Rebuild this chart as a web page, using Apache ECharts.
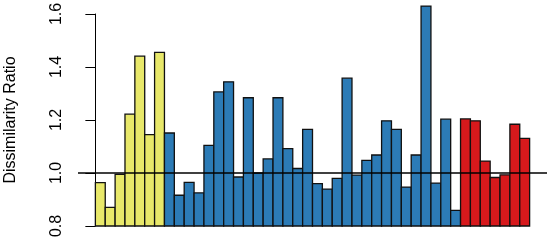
<!DOCTYPE html>
<html lang="en">
<head>
    <meta charset="UTF-8">
    <title>Dissimilarity Ratio</title>
    <script src="https://cdn.jsdelivr.net/npm/echarts@6/dist/echarts.min.js"></script>
    <style>
        body { margin: 0; background: #fff; }
    </style>
</head>
<body>
<div id="main" style="width: 550px;height:240px;"></div>
<script type="text/javascript">
    // values, three groups from left to right
    var yellowVals = [0.964, 0.870, 0.995, 1.222, 1.441, 1.145, 1.455];
    var blueVals = [1.151, 0.916, 0.965, 0.925, 1.104, 1.306, 1.344, 0.985, 1.284, 1.000,
                    1.053, 1.284, 1.092, 1.017, 1.165, 0.960, 0.939, 0.980, 1.358, 0.992,
                    1.048, 1.068, 1.197, 1.165, 0.947, 1.068, 1.630, 0.962, 1.203, 0.859];
    var redVals = [1.204, 1.197, 1.045, 0.983, 0.993, 1.184, 1.131];
    var yTicks = [0.8, 1.0, 1.2, 1.4, 1.6];
    var baseLine = 1.0;

    var groupColors = ['#E8E86A', '#2C7BB6', '#D7191C'];

    // one row per bar: [left edge, value, group]
    var rows = [];
    [yellowVals, blueVals, redVals].forEach(function (vals, g) {
        vals.forEach(function (v) {
            rows.push([rows.length, v, g]);
        });
    });
    var n = rows.length;
    var pad = n * 0.04;   // R style 4% axis extension

    var myChart = echarts.init(document.getElementById('main'));

    myChart.setOption({
        animation: false,
        grid: { left: 78, right: 3, top: 14, bottom: 14, containLabel: false, outerBoundsMode: 'none' },
        xAxis: {
            type: 'value',
            min: -pad,
            max: n + pad,
            show: false
        },
        yAxis: {
            type: 'value',
            min: yTicks[0],
            max: yTicks[yTicks.length - 1],
            interval: 0.2,
            name: 'Dissimilarity Ratio',
            nameLocation: 'middle',
            nameRotate: 90,
            nameGap: 59,
            nameTextStyle: { fontFamily: 'Liberation Sans', fontSize: 16, color: '#000' },
            axisLine: { show: true, lineStyle: { color: '#000', width: 1 } },
            axisTick: { show: true, inside: false, length: 10, lineStyle: { color: '#000' } },
            axisLabel: {
                rotate: 90,
                margin: 13,
                fontFamily: 'Liberation Sans',
                fontSize: 16,
                color: '#000',
                formatter: function (v) { return v.toFixed(1); }
            },
            splitLine: { show: false }
        },
        series: [{
            type: 'custom',
            data: rows,
            clip: false,
            z: 2,
            renderItem: function (params, api) {
                var x0 = api.value(0);
                var v = api.value(1);
                var p0 = api.coord([x0, yTicks[0]]);
                var p1 = api.coord([x0 + 1, v]);
                return {
                    type: 'rect',
                    shape: { x: p0[0], y: p1[1], width: p1[0] - p0[0], height: p0[1] - p1[1] },
                    style: {
                        fill: groupColors[api.value(2)],
                        stroke: '#111',
                        lineWidth: 1.3
                    }
                };
            },
            markLine: {
                silent: true,
                symbol: 'none',
                z: 5,
                label: { show: false },
                lineStyle: { color: '#000', width: 1.5, type: 'solid' },
                data: [{ yAxis: baseLine }]
            }
        }]
    });
</script>
</body>
</html>
